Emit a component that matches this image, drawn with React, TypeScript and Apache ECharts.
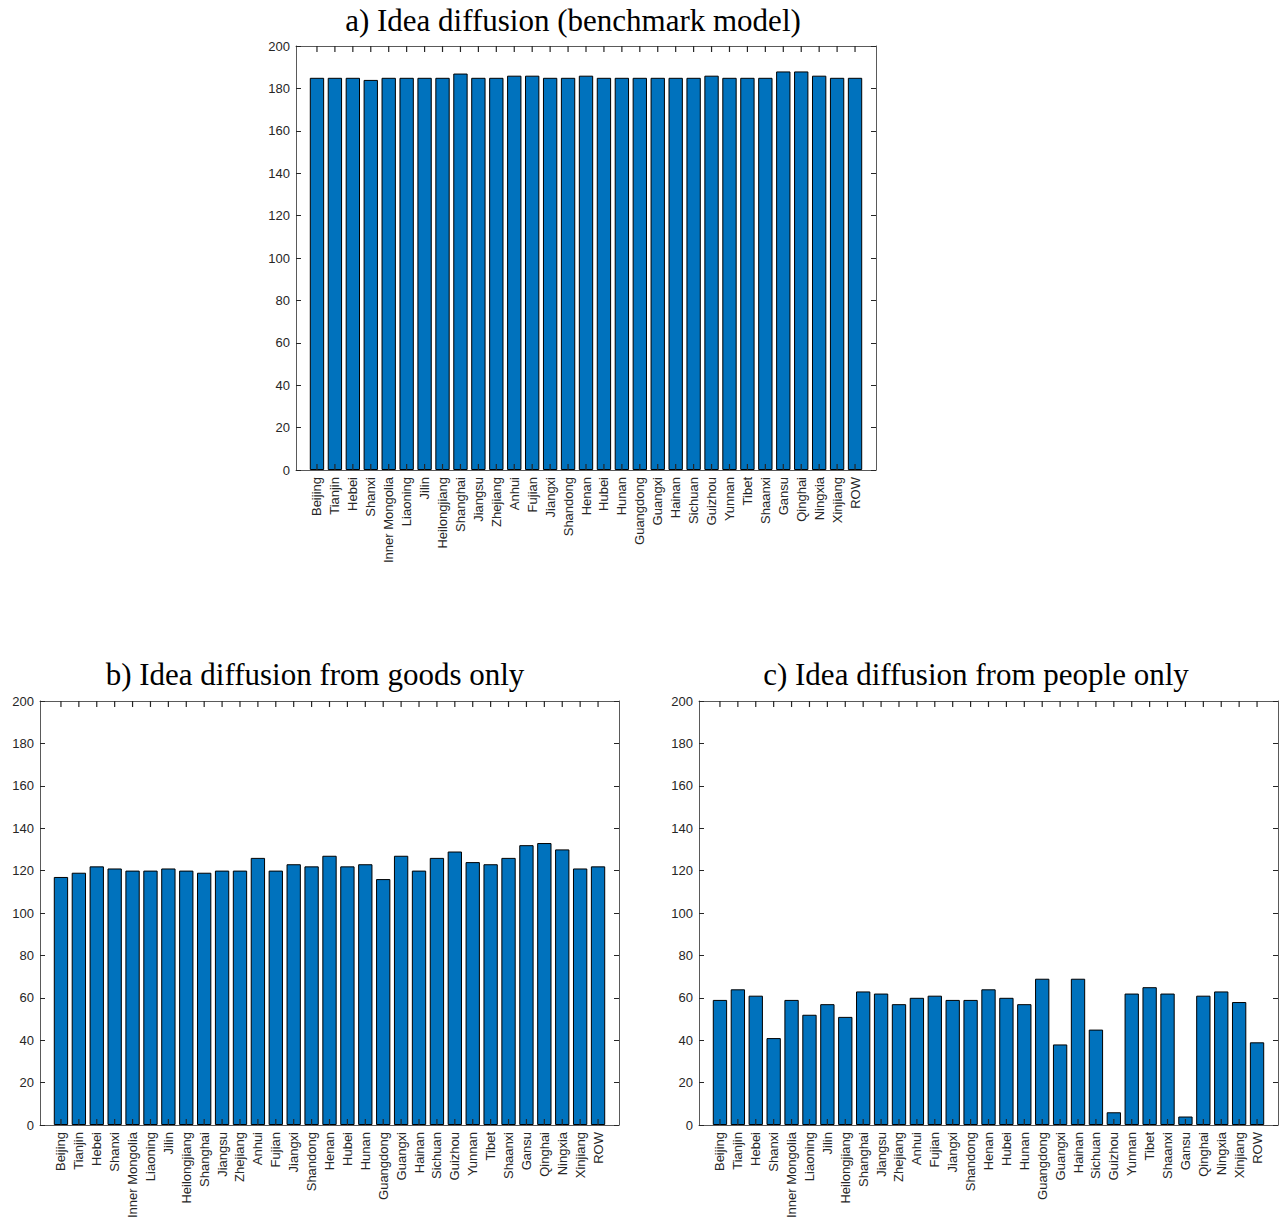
import React, { useEffect, useRef } from "react";
import * as echarts from "echarts";

const categories = [
  "Beijing", "Tianjin", "Hebei", "Shanxi", "Inner Mongolia", "Liaoning", "Jilin",
  "Heilongjiang", "Shanghai", "Jiangsu", "Zhejiang", "Anhui", "Fujian", "Jiangxi",
  "Shandong", "Henan", "Hubei", "Hunan", "Guangdong", "Guangxi", "Hainan", "Sichuan",
  "Guizhou", "Yunnan", "Tibet", "Shaanxi", "Gansu", "Qinghai", "Ningxia", "Xinjiang", "ROW",
];

const benchmark = [
  185, 185, 185, 184, 185, 185, 185, 185, 187, 185, 185, 186, 186, 185, 185, 186,
  185, 185, 185, 185, 185, 185, 186, 185, 185, 185, 188, 188, 186, 185, 185,
];

const goodsOnly = [
  117, 119, 122, 121, 120, 120, 121, 120, 119, 120, 120, 126, 120, 123, 122, 127,
  122, 123, 116, 127, 120, 126, 129, 124, 123, 126, 132, 133, 130, 121, 122,
];

const peopleOnly = [
  59, 64, 61, 41, 59, 52, 57, 51, 63, 62, 57, 60, 61, 59, 59, 64,
  60, 57, 69, 38, 69, 45, 6, 62, 65, 62, 4, 61, 63, 58, 39,
];

const titles = [
  "a) Idea diffusion (benchmark model)",
  "b) Idea diffusion from goods only",
  "c) Idea diffusion from people only",
];

const yMin = 0;
const yMax = 200;
const yStep = 20;

export default function App() {
  const ref = useRef<HTMLDivElement>(null);

  useEffect(() => {
    if (!ref.current) return;
    const chart = echarts.init(ref.current, null, { renderer: "svg" });

    const panels = [
      { data: benchmark, left: 296, top: 46, width: 580, height: 424, title: titles[0], tx: 573, ty: 20 },
      { data: goodsOnly, left: 40, top: 701, width: 579, height: 424, title: titles[1], tx: 315, ty: 674 },
      { data: peopleOnly, left: 699, top: 701, width: 579, height: 424, title: titles[2], tx: 976, ty: 674 },
    ];

    const axisColor = "#262626";
    const lineColor = "#5a5a5a";
    const grid: any[] = [];
    const xAxis: any[] = [];
    const yAxis: any[] = [];
    const series: any[] = [];
    const graphic: any[] = [];
    const pad = 12;
    const tickLen = 6;
    const refs: { xCat: number; yInner: number }[] = [];

    panels.forEach((p) => {
      const outer = grid.length;
      grid.push({ left: p.left, top: p.top, width: p.width, height: p.height, containLabel: false });
      const inner = grid.length;
      grid.push({ left: p.left + pad, top: p.top, width: p.width - 2 * pad, height: p.height, containLabel: false });

      xAxis.push({
        type: "value", gridIndex: outer, min: 0, max: 1, position: "bottom",
        axisLine: { show: true, onZero: false, lineStyle: { color: lineColor, width: 1 } },
        axisTick: { show: false }, axisLabel: { show: false }, splitLine: { show: false }, z: 6,
      });
      xAxis.push({
        type: "value", gridIndex: outer, min: 0, max: 1, position: "top",
        axisLine: { show: true, onZero: false, lineStyle: { color: lineColor, width: 1 } },
        axisTick: { show: false }, axisLabel: { show: false }, splitLine: { show: false }, z: 6,
      });
      const xCat = xAxis.length;
      xAxis.push({
        type: "category", gridIndex: inner, data: categories, position: "bottom",
        axisLine: { show: false },
        axisTick: { show: false },
        axisLabel: {
          show: true, interval: 0, rotate: 90, margin: 7, fontSize: 13,
          fontFamily: "Liberation Sans, Arial, sans-serif", color: axisColor,
        },
        splitLine: { show: false }, z: 6,
      });

      yAxis.push({
        type: "value", gridIndex: outer, min: yMin, max: yMax, interval: yStep, position: "left",
        axisLine: { show: true, onZero: false, lineStyle: { color: lineColor, width: 1 } },
        axisTick: { show: true, inside: true, length: 5, lineStyle: { color: axisColor } },
        axisLabel: { show: true, margin: 6, fontSize: 13, fontFamily: "Liberation Sans, Arial, sans-serif", color: axisColor },
        splitLine: { show: false }, z: 6,
      });
      yAxis.push({
        type: "value", gridIndex: outer, min: yMin, max: yMax, interval: yStep, position: "right",
        axisLine: { show: true, onZero: false, lineStyle: { color: lineColor, width: 1 } },
        axisTick: { show: true, inside: true, length: 5, lineStyle: { color: axisColor } },
        axisLabel: { show: false }, splitLine: { show: false }, z: 6,
      });
      const yInner = yAxis.length;
      yAxis.push({
        type: "value", gridIndex: inner, min: yMin, max: yMax, show: false,
        splitLine: { show: false },
      });

      series.push({
        type: "bar", xAxisIndex: xCat, yAxisIndex: yInner, data: p.data,
        barWidth: "80%",
        itemStyle: { color: "#0072BD", borderColor: "#000000", borderWidth: 1 },
        z: 2,
      });

      refs.push({ xCat, yInner });

      graphic.push({
        type: "text", x: p.tx, y: p.ty,
        style: {
          text: p.title, align: "center", verticalAlign: "middle",
          fontSize: 31, fontFamily: "Liberation Serif, 'Times New Roman', serif", fill: "#000",
        },
      });
    });

    chart.setOption({
      animation: false,
      backgroundColor: "#ffffff",
      grid, xAxis, yAxis, series, graphic,
    });

    // x tick marks at category centres on bottom and top edges, pointing inward
    const ticks: any[] = [];
    refs.forEach(({ xCat, yInner }) => {
      const yb = chart.convertToPixel({ yAxisIndex: yInner }, yMin) as number;
      const yt = chart.convertToPixel({ yAxisIndex: yInner }, yMax) as number;
      categories.forEach((c) => {
        const x = chart.convertToPixel({ xAxisIndex: xCat }, c) as number;
        if (typeof x !== "number" || isNaN(x)) return;
        ticks.push({
          type: "rect", z: 100, silent: true,
          shape: { x: x - 0.6, y: yb - tickLen, width: 1.2, height: tickLen },
          style: { fill: axisColor },
        });
        ticks.push({
          type: "rect", z: 100, silent: true,
          shape: { x: x - 0.6, y: yt, width: 1.2, height: tickLen },
          style: { fill: axisColor },
        });
      });
    });
    chart.setOption({ graphic: [...graphic, ...ticks] }, { replaceMerge: ["graphic"] });

    return () => chart.dispose();
  }, []);

  return (
    <div
      ref={ref}
      style={{ position: "fixed", left: 0, top: 0, width: 1283, height: 1221, background: "#fff" }}
    />
  );
}
